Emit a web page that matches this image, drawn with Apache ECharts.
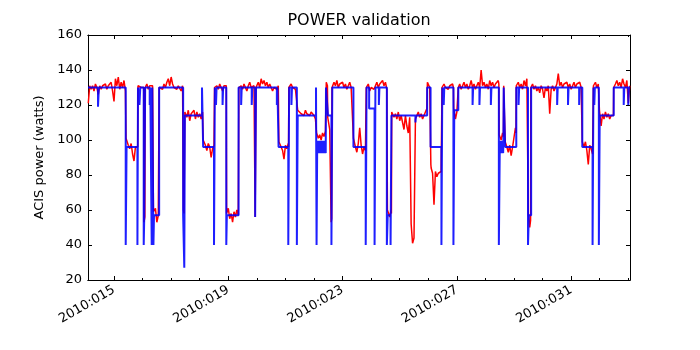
<!DOCTYPE html>
<html>
<head>
<meta charset="utf-8">
<script src="https://cdn.jsdelivr.net/npm/echarts@6/dist/echarts.min.js"></script>
<style>html,body{margin:0;padding:0;background:#fff}#c{width:700px;height:350px}</style>
</head>
<body>
<div id="c"></div>
<script>
// Day-of-year 2010 tick positions
const majorDayTicks = [15, 19, 23, 27, 31];
const minorDayTicks = [15, 16, 17, 18, 19, 20, 21, 22, 23, 24, 25, 26, 27, 28, 29, 30, 31, 32, 33];
const powerTicks = [20, 40, 60, 80, 100, 120, 140, 160];

// Model (blue) power steps: [day, watts] — value holds until next entry
const modelSteps = [
  [14.09,130],[14.44,119],[14.47,130],[15.41,40],[15.44,96],[15.82,40],[15.84,130],[15.89,120],[15.92,130],
  [16.04,40],[16.06,57],[16.09,130],[16.25,120],[16.27,130],[16.32,40],[16.34,130],[16.38,40],[16.40,57],
  [16.58,130],[17.42,57],[17.46,27],[17.48,114],[18.08,130],[18.12,96],[18.50,40],[18.53,130],[18.57,120],
  [18.59,130],[18.80,120],[18.82,130],[18.93,40],[18.95,57],[19.36,130],[19.45,120],[19.47,130],[19.82,120],
  [19.84,130],[19.94,56],[19.97,130],[20.70,120],[20.72,130],[20.76,96],[21.10,40],[21.13,130],[21.21,120],
  [21.23,130],[21.40,40],[21.43,114],[22.07,130],[22.09,40],
  [22.11,92.5],[22.12,99.5],[22.13,92.5],[22.14,99.5],[22.15,92.5],[22.16,99.5],[22.17,92.5],[22.18,99.5],
  [22.19,92.5],[22.20,99.5],[22.21,92.5],[22.22,99.5],[22.23,92.5],[22.24,99.5],[22.25,92.5],[22.26,99.5],
  [22.27,92.5],[22.28,99.5],[22.29,92.5],[22.30,99.5],[22.31,92.5],[22.32,99.5],[22.33,92.5],[22.34,99.5],
  [22.35,92.5],[22.36,99.5],[22.37,92.5],[22.38,99.5],[22.39,92.5],[22.40,99.5],[22.41,92.5],
  [22.42,130],[22.49,114],[22.61,40],[22.64,130],[23.38,96],[23.81,40],[23.84,130],[23.93,118],[24.12,40],
  [24.15,130],[24.27,120],[24.29,130],[24.55,40],[24.58,57],[24.68,40],[24.71,114],[25.55,110],[25.57,114],
  [25.96,130],[26.08,96],[26.46,40],[26.49,130],[26.54,120],[26.56,130],[26.88,40],[26.91,117],[27.05,130],
  [27.55,120],[27.57,130],[27.79,120],[27.81,130],[28.19,120],[28.21,130],[28.47,40],
  [28.50,92.5],[28.51,99.5],[28.52,92.5],[28.53,99.5],[28.54,92.5],[28.55,99.5],[28.56,92.5],[28.57,99.5],
  [28.58,92.5],[28.59,99.5],[28.60,92.5],[28.61,99.5],[28.62,92.5],[28.63,99.5],
  [28.64,130],[28.69,96],[29.08,130],[29.16,120],[29.18,130],[29.49,40],[29.52,57],[29.60,130],[30.51,120],
  [30.53,130],[30.89,120],[30.91,130],[31.28,120],[31.30,130],[31.39,96],[31.75,40],[31.78,130],[31.81,120],
  [31.83,130],[31.97,40],[32.00,114],[32.49,130],[32.84,120],[32.86,130],[33.00,120],[33.02,130],[33.06,130]
];

// Telemetry (red) power: [day, watts]
const telemetry = [
  [14.10,121],[14.15,131],[14.20,129],[14.25,131],[14.30,128],[14.35,132],[14.40,130],[14.45,126],[14.50,131],
  [14.55,129],[14.60,131],[14.65,130],[14.70,132],[14.75,129],[14.80,131],[14.85,130],[14.90,133],[14.95,128],
  [15.00,122],[15.05,135],[15.10,131],[15.15,136],[15.20,129],[15.25,133],[15.30,130],[15.35,134],[15.40,128],
  [15.45,100],[15.50,97],[15.55,95],[15.60,98],[15.65,92],[15.70,88],[15.75,96],[15.80,97],[15.85,130],
  [15.90,132],[15.95,130],[16.00,131],[16.05,53],[16.10,130],[16.15,132],[16.20,129],[16.25,131],[16.30,130],
  [16.35,131],[16.40,58],[16.45,61],[16.50,53],[16.55,57],[16.60,130],[16.65,131],[16.70,129],[16.75,132],
  [16.80,130],[16.85,133],[16.90,135],[16.95,131],[17.00,136],[17.05,132],[17.10,130],[17.15,131],[17.20,129],
  [17.25,131],[17.30,130],[17.35,128],[17.40,131],[17.45,58],[17.50,116],[17.55,113],[17.60,117],[17.65,111],
  [17.70,115],[17.75,114],[17.80,117],[17.85,112],[17.90,116],[17.95,113],[18.00,115],[18.05,112],[18.10,116],
  [18.15,100],[18.20,97],[18.25,94],[18.30,98],[18.35,96],[18.40,90],[18.45,95],[18.50,97],[18.55,130],
  [18.60,131],[18.65,129],[18.70,132],[18.75,130],[18.80,128],[18.85,131],[18.90,130],[18.95,57],[19.00,61],
  [19.05,55],[19.10,58],[19.15,53],[19.20,59],[19.25,56],[19.30,60],[19.35,57],[19.40,130],[19.45,131],
  [19.50,129],[19.55,132],[19.60,130],[19.65,128],[19.70,131],[19.75,133],[19.80,130],[19.85,129],[19.90,131],
  [19.95,56],[20.00,131],[20.05,133],[20.10,130],[20.15,135],[20.20,132],[20.25,134],[20.30,131],[20.35,133],
  [20.40,130],[20.45,132],[20.50,131],[20.55,128],[20.60,130],[20.65,131],[20.70,129],[20.75,131],[20.80,100],
  [20.85,96],[20.90,94],[20.95,89],[21.00,97],[21.05,95],[21.10,98],[21.15,130],[21.20,132],[21.25,130],
  [21.30,131],[21.35,129],[21.40,130],[21.45,116],[21.50,118],[21.55,115],[21.60,116],[21.65,114],[21.70,117],
  [21.75,115],[21.80,116],[21.85,114],[21.90,116],[21.95,115],[22.00,114],[22.05,112],[22.10,104],[22.15,101],
  [22.20,103],[22.25,100],[22.30,104],[22.35,102],[22.40,105],[22.45,133],[22.50,112],[22.55,106],[22.60,53],
  [22.65,130],[22.70,133],[22.75,131],[22.80,134],[22.85,130],[22.90,132],[22.95,131],[23.00,133],[23.05,130],
  [23.10,132],[23.15,129],[23.20,131],[23.25,133],[23.30,130],[23.35,131],[23.40,100],[23.45,96],[23.50,93],
  [23.55,98],[23.60,107],[23.65,97],[23.70,92],[23.75,96],[23.80,94],[23.85,130],[23.90,132],[23.95,128],
  [24.00,130],[24.05,131],[24.10,129],[24.15,131],[24.20,133],[24.25,130],[24.30,132],[24.35,131],[24.40,134],
  [24.45,131],[24.50,133],[24.55,129],[24.60,59],[24.65,56],[24.70,60],[24.75,116],[24.80,113],[24.85,115],
  [24.90,112],[24.95,116],[25.00,111],[25.05,114],[25.10,113],[25.15,106],[25.20,114],[25.25,108],[25.30,104],
  [25.35,113],[25.40,52],[25.45,41],[25.50,44],[25.55,112],[25.60,114],[25.65,116],[25.70,113],[25.75,115],
  [25.80,112],[25.85,114],[25.90,116],[25.95,118],[26.00,133],[26.05,130],[26.10,84],[26.15,81],[26.20,63],
  [26.25,82],[26.30,79],[26.35,81],[26.40,80],[26.45,82],[26.50,130],[26.55,132],[26.60,130],[26.65,131],
  [26.70,129],[26.75,131],[26.80,130],[26.85,132],[26.90,117],[26.95,112],[27.00,116],[27.05,130],[27.10,132],
  [27.15,129],[27.20,131],[27.25,133],[27.30,130],[27.35,132],[27.40,129],[27.45,131],[27.50,134],[27.55,130],
  [27.60,132],[27.65,129],[27.70,131],[27.75,133],[27.80,130],[27.85,140],[27.90,131],[27.95,133],[28.00,130],
  [28.05,132],[28.10,129],[28.15,134],[28.20,131],[28.25,133],[28.30,130],[28.35,132],[28.40,131],[28.45,134],
  [28.50,103],[28.55,100],[28.60,104],[28.65,131],[28.70,98],[28.75,96],[28.80,93],[28.85,97],[28.90,91],
  [28.95,96],[29.00,95],[29.05,107],[29.10,131],[29.15,133],[29.20,130],[29.25,132],[29.30,129],[29.35,134],
  [29.40,131],[29.45,135],[29.50,58],[29.55,50],[29.60,130],[29.65,132],[29.70,129],[29.75,131],[29.80,128],
  [29.85,130],[29.90,127],[29.95,131],[30.00,129],[30.05,124],[30.10,130],[30.15,128],[30.20,131],[30.25,115],
  [30.30,129],[30.35,131],[30.40,128],[30.45,130],[30.50,132],[30.55,138],[30.60,131],[30.65,133],[30.70,130],
  [30.75,132],[30.80,131],[30.85,133],[30.90,130],[30.95,132],[31.00,129],[31.05,131],[31.10,133],[31.15,130],
  [31.20,132],[31.25,131],[31.30,133],[31.35,130],[31.40,98],[31.45,96],[31.50,99],[31.55,94],[31.60,86],
  [31.65,97],[31.70,95],[31.75,92],[31.80,131],[31.85,133],[31.90,130],[31.95,132],[32.00,117],[32.05,108],
  [32.10,115],[32.15,112],[32.20,116],[32.25,113],[32.30,115],[32.35,112],[32.40,114],[32.45,113],[32.50,130],
  [32.55,132],[32.60,134],[32.65,131],[32.70,133],[32.75,130],[32.80,135],[32.85,132],[32.90,130],[32.95,134],
  [33.00,121],[33.05,131]
];

// Extra telemetry samples read at the sharp mode transitions: [day, watts]
const telemetryEdges = [
  [15.41,129],[15.42,101],[15.83,96],[15.84,131],[16.04,130],[16.08,56],[16.09,130],[16.37,130],[16.38,59],
  [16.57,56],[16.58,130],[17.42,130],[17.43,60],[17.47,58],[17.48,116],[18.11,115],[18.12,100],[18.51,96],
  [18.52,130],[18.93,131],[18.94,58],[19.36,58],[19.37,130],[19.93,130],[19.94,56],[19.96,57],[19.97,130],
  [20.76,130],[20.77,99],[21.11,96],[21.12,130],[21.42,129],[21.43,117],[22.08,113],[22.09,104],[22.42,104],
  [22.43,133],[22.47,131],[22.48,113],[22.59,105],[22.62,55],[22.63,130],[23.37,130],[23.38,101],[23.82,95],
  [23.83,130],[24.56,130],[24.57,60],[24.71,58],[24.72,116],[25.96,119],[25.97,133],[26.08,130],[26.09,86],
  [26.47,81],[26.48,130],[26.88,130],[26.89,118],[27.04,115],[28.47,132],[28.48,103],[28.63,102],[28.64,131],
  [28.68,130],[28.69,99],[29.07,104],[29.08,131],[29.49,134],[29.58,54],[29.59,130],[31.38,131],[31.39,99],
  [31.77,93],[31.78,131],[31.98,131],[31.99,117],[32.48,114],[32.49,130]
];

const telemetrySeries = telemetry.concat(telemetryEdges).sort((a, b) => a[0] - b[0]);

const FONT = 'DejaVu Sans';
const X_MIN = 14.09, X_MAX = 33.06;
const fmtDay = v => '2010:' + String(Math.round(v)).padStart(3, '0');
const lineBlack = { show: true, lineStyle: { color: '#000', width: 1 } };

function xAx(pos, ticks, len, labels) {
  return {
    type: 'value', position: pos, min: X_MIN, max: X_MAX,
    axisLine: lineBlack,
    axisTick: { show: true, inside: true, length: len, customValues: ticks, lineStyle: { color: '#000' } },
    axisLabel: labels ? {
      show: true, customValues: ticks, rotate: 30, margin: 9, formatter: fmtDay,
      color: '#000', fontFamily: FONT, fontSize: 13
    } : { show: false },
    splitLine: { show: false }
  };
}

const chart = echarts.init(document.getElementById('c'), null, { renderer: 'canvas' });
chart.setOption({
  animation: false,
  backgroundColor: '#fff',
  graphic: [{
    type: 'text', x: 359, y: 13,
    style: { text: 'POWER validation', font: '16px "DejaVu Sans"', align: 'center', verticalAlign: 'top', fill: '#000' }
  }],
  grid: { left: 88, right: 70, top: 35, bottom: 70, containLabel: false },
  xAxis: [
    xAx('bottom', minorDayTicks, 2, false),
    xAx('bottom', majorDayTicks, 4, true),
    xAx('top', minorDayTicks, 2, false),
    xAx('top', majorDayTicks, 4, false)
  ],
  yAxis: [
    {
      type: 'value', position: 'left', min: 20, max: 160, interval: 20,
      name: 'ACIS power (watts)', nameLocation: 'middle', nameGap: 36,
      nameTextStyle: { color: '#000', fontFamily: FONT, fontSize: 13 },
      axisLine: lineBlack,
      axisTick: { show: true, inside: true, length: 4, customValues: powerTicks, lineStyle: { color: '#000' } },
      axisLabel: { color: '#000', fontFamily: FONT, fontSize: 13, margin: 6, customValues: powerTicks },
      splitLine: { show: false }
    },
    {
      type: 'value', position: 'right', min: 20, max: 160, interval: 20,
      axisLine: lineBlack,
      axisTick: { show: true, inside: true, length: 4, customValues: powerTicks, lineStyle: { color: '#000' } },
      axisLabel: { show: false },
      splitLine: { show: false }
    }
  ],
  series: [
    {
      type: 'line', xAxisIndex: 0, yAxisIndex: 0, data: telemetrySeries,
      showSymbol: false, symbol: 'none',
      lineStyle: { color: '#ff0000', width: 1.5 }, z: 2
    },
    {
      type: 'line', xAxisIndex: 0, yAxisIndex: 0, data: modelSteps, step: 'end',
      showSymbol: false, symbol: 'none',
      lineStyle: { color: '#0000ff', width: 2, opacity: 0.88 }, z: 3
    }
  ]
});
</script>
</body>
</html>
